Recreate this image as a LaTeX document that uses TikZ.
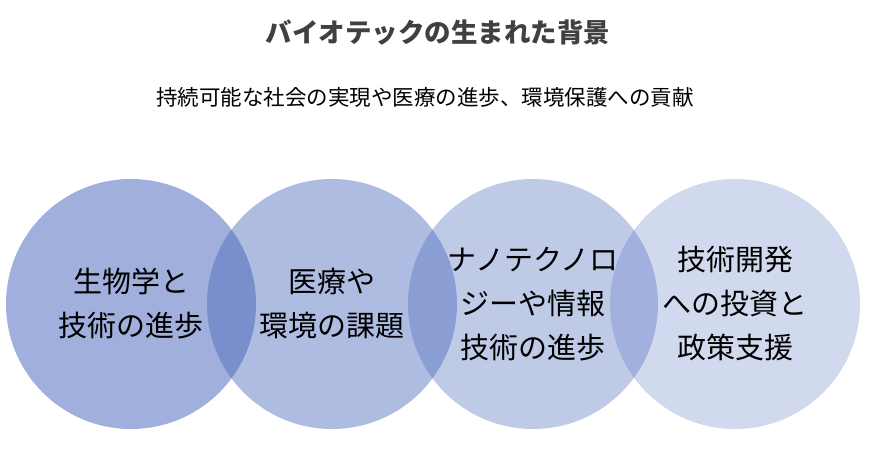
\documentclass[tikz,border=0pt]{standalone}
\usepackage{fontspec}
\setmainfont{Noto Sans CJK JP}
\definecolor{bubbleblue}{RGB}{72,102,186}
\definecolor{titlegray}{RGB}{64,64,64}
\tikzset{
  bubble/.style={circle, minimum size=250pt, inner sep=0pt, fill=bubbleblue},
  bubbletext/.style={align=center, text=black, font=\fontsize{29}{44}\selectfont},
  headline/.style={text=titlegray, font=\bfseries\fontsize{26.5}{30}\selectfont},
  subline/.style={text=black, font=\fontsize{21.5}{24}\selectfont}
}
\begin{document}
\begin{tikzpicture}[x=1pt, y=-1pt]
  \useasboundingbox (0,0) rectangle (872,452);
  \node[headline] (title) at (438,33) {バイオテックの生まれた背景};
  \node[subline] (sub) at (425,97) {持続可能な社会の実現や医療の進歩、環境保護への貢献};

  \node[bubble, fill opacity=0.52] (c1) at (131,304) {};
  \node[bubble, fill opacity=0.44] (c2) at (332,304) {};
  \node[bubble, fill opacity=0.35] (c3) at (533,304) {};
  \node[bubble, fill opacity=0.25] (c4) at (735,304) {};

  \node[bubbletext] (t1) at (c1) {生物学と\\技術の進歩};
  \node[bubbletext] (t2) at (c2) {医療や\\環境の課題};
  \node[bubbletext] (t3) at (c3) {ナノテクノロ\\ジーや情報\\技術の進歩};
  \node[bubbletext] (t4) at (c4) {技術開発\\への投資と\\政策支援};
\end{tikzpicture}
\end{document}
